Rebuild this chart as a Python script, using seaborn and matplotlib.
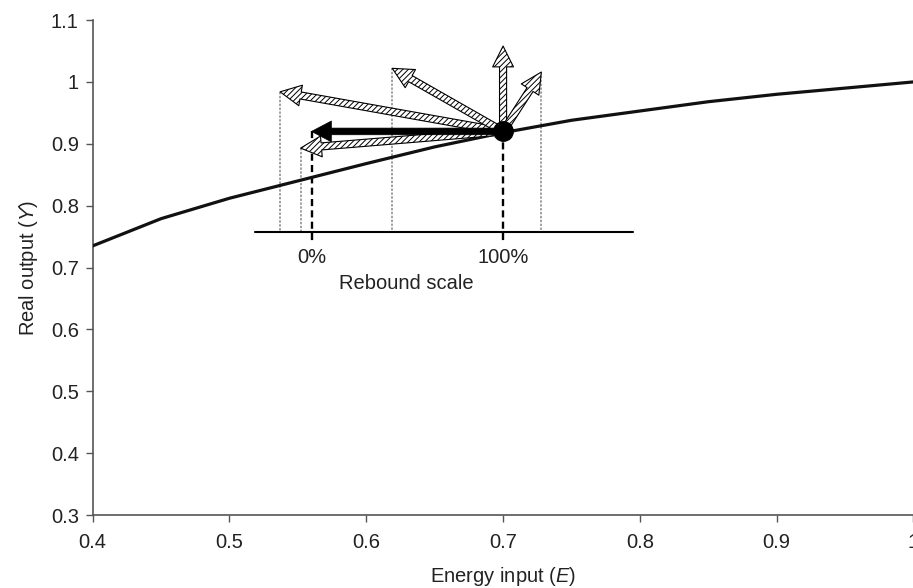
import numpy as np
import pandas as pd
import seaborn as sns
import matplotlib.pyplot as plt

# production curve
energy = [0.40, 0.45, 0.50, 0.55, 0.60, 0.65, 0.70, 0.75, 0.80, 0.85, 0.90, 0.95, 1.00]
output = [0.735, 0.779, 0.812, 0.840, 0.868, 0.895, 0.918, 0.938, 0.953, 0.968, 0.980, 0.990, 1.000]

# starting point and the zero-rebound point
start_E, start_Y = 0.70, 0.92
zero_E = 0.56

# tips of the hatched rebound arrows
tip_E = [0.537, 0.552, 0.619, 0.700, 0.728]
tip_Y = [0.984, 0.893, 1.022, 1.058, 1.016]

# rebound scale
scale_Y = 0.758
scale_left, scale_right = 0.519, 0.795
scale_labels = ["0%", "100%"]

sns.set_theme(style="white")
plt.rcParams["font.family"] = ["Liberation Sans", "DejaVu Sans"]
plt.rcParams["mathtext.fontset"] = "custom"
plt.rcParams["mathtext.rm"] = "Liberation Sans"
plt.rcParams["mathtext.it"] = "Liberation Sans:italic"
plt.rcParams["hatch.linewidth"] = 0.7

fig = plt.figure(figsize=(9.13, 5.88), dpi=100)
ax = fig.add_axes([0.1015, 0.1241, 0.899, 0.8418])

df = pd.DataFrame({"E": energy, "Y": output})
sns.lineplot(data=df, x="E", y="Y", ax=ax, color="#111111", linewidth=2.3, zorder=3)

# rebound scale line and the dashed markers for 0% and 100%
ax.plot([scale_left, scale_right], [scale_Y, scale_Y], color="black", lw=1.5, zorder=2)
for e in [zero_E, start_E]:
    ax.plot([e, e], [start_Y, 0.742], color="black", lw=1.7,
            linestyle=(0, (3, 1.8)), zorder=2)

# grey dotted drop lines from each arrow tip
for e, y in zip(tip_E, tip_Y):
    if e == start_E:
        continue
    ax.plot([e, e], [y, scale_Y], color="#a0a0a0", lw=1.4,
            linestyle=(0, (1.2, 0.8)), zorder=1)

for e, y in zip(tip_E, tip_Y):
    ax.annotate("", xy=(e, y), xytext=(start_E, start_Y),
                arrowprops=dict(arrowstyle="simple,head_length=1.0,head_width=1.0,tail_width=0.34",
                                mutation_scale=15, fc="white", ec="black", lw=0.8,
                                hatch="//////", shrinkA=0, shrinkB=0),
                zorder=4)

# solid arrow: no rebound
ax.annotate("", xy=(zero_E, start_Y), xytext=(start_E, start_Y),
            arrowprops=dict(arrowstyle="simple,head_length=0.95,head_width=1.0,tail_width=0.32",
                            mutation_scale=15, fc="black", ec="black", lw=0.5,
                            shrinkA=0, shrinkB=0),
            zorder=5)

ax.plot([start_E], [start_Y], marker="o", markersize=14, color="black", zorder=6)

for e, lab in zip([zero_E, start_E], scale_labels):
    ax.text(e, 0.717, lab, ha="center", va="center", fontsize=14.5, color="#222222")
ax.text(0.629, 0.675, "Rebound scale", ha="center", va="center", fontsize=14.5, color="#222222")

ax.set_xlim(0.4, 1.0)
ax.set_ylim(0.3, 1.1)
ax.set_xticks([0.4, 0.5, 0.6, 0.7, 0.8, 0.9, 1.0])
ax.set_xticklabels(["0.4", "0.5", "0.6", "0.7", "0.8", "0.9", "1"])
ax.set_yticks([0.3, 0.4, 0.5, 0.6, 0.7, 0.8, 0.9, 1.0, 1.1])
ax.set_yticklabels(["0.3", "0.4", "0.5", "0.6", "0.7", "0.8", "0.9", "1", "1.1"])

ax.set_xlabel(r"Energy input ($\mathit{E}$)", fontsize=14.5, color="#222222", labelpad=9)
ax.set_ylabel(r"Real output ($\mathit{Y}$)", fontsize=14.5, color="#222222", labelpad=8)

sns.despine(ax=ax)
for side in ["left", "bottom"]:
    ax.spines[side].set_color("#555555")
    ax.spines[side].set_linewidth(1.2)
ax.tick_params(axis="both", which="both", direction="out", length=5, width=1.0,
               color="#555555", labelsize=14.5, labelcolor="#222222", pad=5,
               bottom=True, left=True)
ax.tick_params(axis="x", pad=8)

fig.savefig("out.png", dpi=100)
